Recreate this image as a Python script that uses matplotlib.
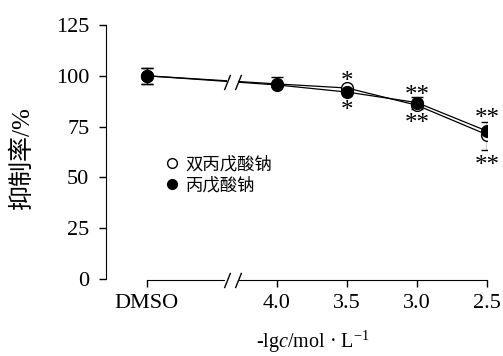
import numpy as np
import matplotlib
matplotlib.use('Agg')
import matplotlib.pyplot as plt
from matplotlib.lines import Line2D

plt.rcParams['font.family'] = ['Liberation Serif', 'Noto Sans CJK SC']
plt.rcParams['mathtext.fontset'] = 'custom'
plt.rcParams['mathtext.rm'] = 'Liberation Serif'
plt.rcParams['mathtext.it'] = 'Liberation Serif:italic'

# x positions: -lgc, DMSO placed left of the axis break
x_labels = ['DMSO', '4.0', '3.5', '3.0', '2.5']
x_pos = [4.93, 4.0, 3.5, 3.0, 2.5]

# 双丙戊酸钠 (open circles)
open_y = [100, 96, 94, 85.5, 71]
open_err_lo = [4, 0, 0, 2, 7.5]
open_err_hi = [4, 0, 0, 0, 0]
# 丙戊酸钠 (filled circles)
fill_y = [100, 95.5, 92, 86.8, 72.8]
fill_err_lo = [4, 0, 0, 0, 0]
fill_err_hi = [4, 4, 0, 3, 4.6]

# significance marks: (x, y, text)
stars = [(3.5, 99.9, '*'), (3.5, 85.6, '*'),
         (3.0, 93, '**'), (3.0, 79.2, '**'),
         (2.5, 81.7, '**'), (2.5, 58.6, '**')]

fig = plt.figure(figsize=(5.03, 3.56), dpi=100)
ax = fig.add_axes([106/503, 76/356, 381/503, 255/356])

for y, lo, hi, fc in [(open_y, open_err_lo, open_err_hi, 'white'),
                      (fill_y, fill_err_lo, fill_err_hi, 'black')]:
    ax.errorbar(x_pos, y, yerr=[lo, hi], fmt='none', ecolor='black',
                elinewidth=1, capsize=4.5, capthick=1, zorder=2)
    ax.plot(x_pos, y, color='black', lw=0.9, marker='o', ms=8.5,
            mfc=fc, mec='black', mew=1, zorder=3)

# axis break on the line and on the x axis
bx = [4.36, 4.28]
by = np.interp(4.32, [x_pos[1], x_pos[0]], [fill_y[1], fill_y[0]])
slash = [(-0.4, -1), (0.4, 1)]
ax.plot(bx, [by, by], color='white', lw=4, zorder=4, solid_capstyle='butt')
ax.plot(bx, [by, by], ls='none', marker=slash, ms=11, mec='black', mew=1, zorder=5)
ax.plot([4.37, 4.27], [-0.5, -0.5], color='white', lw=4, zorder=4,
        clip_on=False, solid_capstyle='butt')
ax.plot(bx, [-0.5, -0.5], ls='none', marker=slash, ms=11, mec='black', mew=1,
        zorder=5, clip_on=False)

# asterisk glyph sits ~0.47 em above the baseline
for x, y, t in stars:
    ax.text(x, y - 5.8, t, ha='center', va='baseline', fontsize=18)

ax.set_xlim(5.221, 2.5)
ax.set_ylim(-0.5, 125)
ax.set_xticks(x_pos)
ax.set_xticklabels(x_labels)
ax.set_yticks([0, 25, 50, 75, 100, 125])
ax.tick_params(labelsize=16, width=1, length=5, direction='out')
ax.tick_params(axis='y', pad=7)
ax.tick_params(axis='x', pad=5)
for s in ['top', 'right']:
    ax.spines[s].set_visible(False)
ax.spines['left'].set_bounds(0, 125)
ax.spines['bottom'].set_bounds(x_pos[0], 2.5)
ax.set_ylabel('抑制率/%', fontsize=18)
ax.yaxis.set_label_coords(-0.19, 0.48)
ax.set_xlabel('-lg$c$/mol \u00b7 L$^{-1}$', fontsize=14.5)
ax.xaxis.set_label_coords(0.543, -0.19)

handles = [Line2D([], [], ls='none', marker='o', ms=7, mfc='white', mec='black'),
           Line2D([], [], ls='none', marker='o', ms=7, mfc='black', mec='black')]
ax.legend(handles, ['双丙戊酸钠', '丙戊酸钠'], loc='upper left',
          bbox_to_anchor=(0.155, 0.485), frameon=False, borderaxespad=0,
          borderpad=0, handlelength=0.8, handletextpad=0.4, labelspacing=0.25,
          prop={'size': 12.5})

fig.savefig('out.png', dpi=100)
